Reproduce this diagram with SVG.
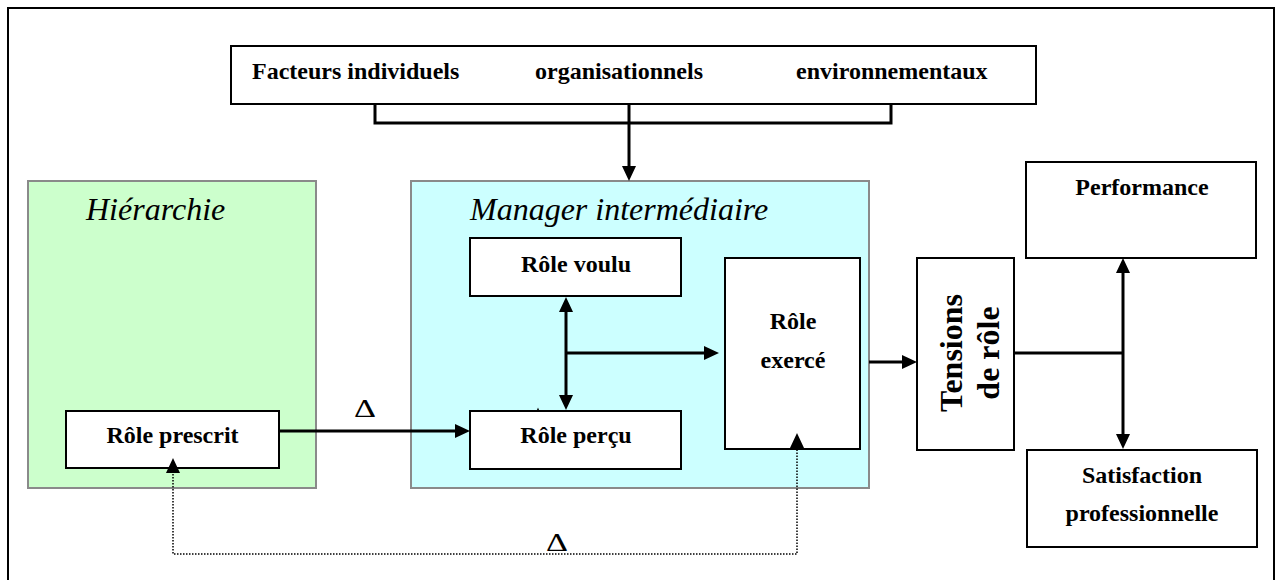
<svg xmlns="http://www.w3.org/2000/svg" width="1282" height="580" viewBox="0 0 1282 580">
<style>
.box{fill:#fff;stroke:#000;stroke-width:2}
.zone{stroke:#8a8a8a;stroke-width:2}
.t{font-family:"Liberation Serif","Times New Roman",serif;font-weight:bold;font-size:24px;fill:#000}
.c{text-anchor:middle}
.it{font-family:"Liberation Serif","Times New Roman",serif;font-style:italic;font-size:32px;fill:#000}
.big{font-family:"Liberation Serif","Times New Roman",serif;font-weight:bold;font-size:32px;fill:#000;text-anchor:middle}
.delta{font-family:"Liberation Serif","Times New Roman",serif;font-size:26px;fill:#000}
.ln{fill:none;stroke:#000;stroke-width:3}
.dot{fill:none;stroke:#000;stroke-width:1.5;stroke-dasharray:1.5 1.5}
</style>
<defs>
<marker id="ah" viewBox="0 0 15 14" refX="5" refY="7" markerWidth="15" markerHeight="14" markerUnits="userSpaceOnUse" orient="auto-start-reverse">
<path d="M0,0 L15,7 L0,14 z" fill="#000"/>
</marker>
</defs>
<rect x="0" y="0" width="1282" height="580" fill="#fff"/>
<g id="frame"><path d="M8,590 L8,8 L1274,8 L1274,590" fill="none" stroke="#000" stroke-width="2"/></g>

<g id="facteurs">
<rect class="box" x="231" y="46" width="805" height="58"/>
<text class="t" x="252" y="79">Facteurs individuels</text>
<text class="t" x="535" y="79">organisationnels</text>
<text class="t" x="796" y="79">environnementaux</text>
</g>

<g id="hierarchie">
<rect class="zone" x="28" y="181" width="288" height="307" fill="#ccffcc"/>
<text class="it" x="86" y="220">Hiérarchie</text>
</g>

<g id="manager">
<rect class="zone" x="411" y="181" width="458" height="307" fill="#ccffff"/>
<text class="it" x="470" y="220">Manager intermédiaire</text>
</g>

<g id="role-prescrit">
<rect class="box" x="66" y="411" width="213" height="57"/>
<text class="t c" x="172.5" y="443">Rôle prescrit</text>
</g>

<g id="role-voulu">
<rect class="box" x="470" y="238" width="211" height="58"/>
<text class="t c" x="576" y="272">Rôle voulu</text>
</g>

<g id="role-percu">
<rect class="box" x="470" y="411" width="211" height="58"/>
<text class="t c" x="576" y="443">Rôle perçu</text>
</g>

<g id="role-exerce">
<rect class="box" x="725" y="258" width="135" height="191"/>
<text class="t c" x="793" y="329">Rôle</text>
<text class="t c" x="793" y="368">exercé</text>
</g>

<g id="tensions">
<rect class="box" x="917" y="258" width="97" height="192"/>
<text class="big" x="961.5" y="353" transform="rotate(-90 961.5 353)">Tensions</text>
<text class="big" x="999" y="353" transform="rotate(-90 999 353)">de rôle</text>
</g>

<g id="performance">
<rect class="box" x="1026" y="162" width="230" height="96"/>
<text class="t c" x="1142" y="195">Performance</text>
</g>

<g id="satisfaction">
<rect class="box" x="1027" y="450" width="230" height="97"/>
<text class="t c" x="1142" y="483">Satisfaction</text>
<text class="t c" x="1142" y="521">professionnelle</text>
</g>

<g id="connectors">
<polyline class="ln" points="375,104 375,123 891,123 891,104"/>
<line class="ln" x1="629" y1="104" x2="629" y2="171" marker-end="url(#ah)"/>
<line class="ln" x1="279" y1="431" x2="460" y2="431" marker-end="url(#ah)"/>
<line class="ln" x1="566" y1="307" x2="566" y2="400" marker-start="url(#ah)" marker-end="url(#ah)"/>
<line class="ln" x1="566" y1="353" x2="709" y2="353" marker-end="url(#ah)"/>
<line class="ln" x1="869" y1="362" x2="907" y2="362" marker-end="url(#ah)"/>
<line class="ln" x1="1014" y1="353" x2="1123" y2="353"/>
<line class="ln" x1="1123" y1="268" x2="1123" y2="439" marker-start="url(#ah)" marker-end="url(#ah)"/>
<polyline class="dot" points="173,468 173,554 797,554 797,443" marker-start="url(#ah)" marker-end="url(#ah)"/>
<polygon points="536.5,411 538,407.5 539.5,411" fill="#000"/>
<text class="delta" x="354" y="417" textLength="22" lengthAdjust="spacingAndGlyphs">Δ</text>
<text class="delta" x="546" y="551" textLength="22" lengthAdjust="spacingAndGlyphs">Δ</text>
</g>
</svg>
